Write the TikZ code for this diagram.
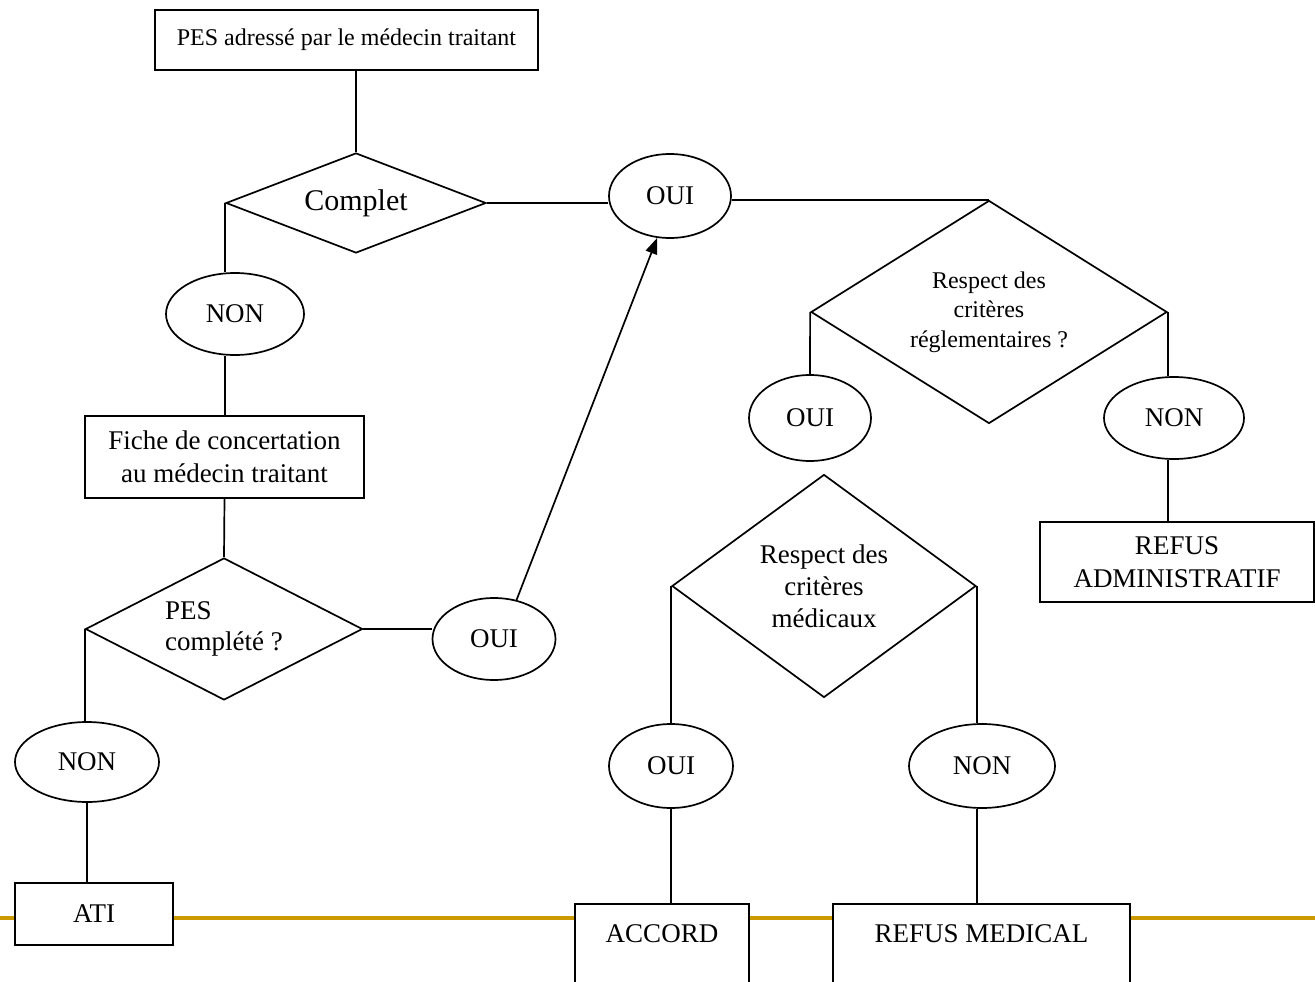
\documentclass[tikz,border=0pt]{standalone}
\usepackage{fontspec}
\setmainfont{Liberation Serif}
\usetikzlibrary{arrows.meta,shapes.geometric}

\definecolor{rulegold}{RGB}{204,153,0}

\begin{document}
\begin{tikzpicture}[x=1pt,y=-1pt,line width=1.7pt,>={Triangle[length=16pt,width=12pt]},
    box/.style={draw,fill=white,rectangle,inner sep=0pt,align=center,font=\fontsize{27}{32.5}\selectfont},
    choice/.style={draw,fill=white,diamond,inner sep=0pt,align=center},
    answer/.style={draw,fill=white,ellipse,inner sep=0pt,font=\fontsize{27}{30}\selectfont},
    cutbox/.style={box,anchor=north,text height=18pt,text depth=80pt,inner ysep=21pt}]
  \useasboundingbox (0,0) rectangle (1315,982);
  \clip (0,0) rectangle (1315,982);
  \draw[rulegold,line width=4pt] (0,918) -- (1315,918);

  \node[box,minimum width=383,minimum height=60,font=\fontsize{24}{28}\selectfont] (pes) at (346.5,40) {PES adressé par le médecin traitant};
  \node[choice,aspect=2.6,minimum width=260,minimum height=100,font=\fontsize{30}{34}\selectfont] (complet) at (356,203) {Complet};
  \node[answer,minimum width=122,minimum height=84] (oui1) at (670,196) {OUI};
  \node[answer,minimum width=138,minimum height=82] (non1) at (235,314) {NON};
  \node[box,minimum width=279,minimum height=82] (fiche) at (224.5,457) {Fiche de concertation\\au médecin traitant};
  \node[choice,aspect=1.95,minimum width=277,minimum height=142,align=left,font=\fontsize{27}{31}\selectfont] (pesc) at (224,629) {PES\\complété ?};
  \node[answer,minimum width=123,minimum height=82] (oui2) at (494,639) {OUI};
  \node[answer,minimum width=144,minimum height=80] (non2) at (87,762) {NON};
  \node[box,minimum width=158,minimum height=62] (ati) at (94,914) {ATI};

  \node[choice,aspect=1.6,minimum width=356,minimum height=223,font=\fontsize{24}{29.5}\selectfont] (regl) at (989,312) {Respect des\\critères\\réglementaires ?};
  \node[answer,minimum width=122,minimum height=86] (oui3) at (810,418) {OUI};
  \node[answer,minimum width=140,minimum height=82] (non3) at (1174,418) {NON};
  \node[box,minimum width=274,minimum height=80] (refusadm) at (1177,562) {REFUS\\ADMINISTRATIF};

  \node[choice,aspect=1.36,minimum width=304,minimum height=223,font=\fontsize{27}{32}\selectfont] (med) at (824,586) {Respect des\\critères\\médicaux};
  \node[answer,minimum width=124,minimum height=84] (oui4) at (671,766) {OUI};
  \node[answer,minimum width=146,minimum height=84] (non4) at (982,766) {NON};
  \node[cutbox,minimum width=174] (accord) at (662,903) {ACCORD};
  \node[cutbox,minimum width=297] (refusmed) at (981.5,903) {REFUS MEDICAL};

  \path (complet.north |- pes.south) edge (complet.north)
        (complet.east) edge (complet.east -| oui1.west)
        (oui1.east |- regl.north) edge (regl.north)
        (complet.west) edge (complet.west |- non1.north)
        (complet.west |- non1.south) edge (complet.west |- fiche.north)
        (fiche.south) edge (pesc.north)
        (pesc.east) edge (pesc.east -| oui2.west)
        (oui2.60) edge [->] (oui1.253)
        (pesc.west) edge (pesc.west |- non2.north)
        (non2.south) edge (non2.south |- ati.north)
        (regl.west) edge (oui3.north)
        (regl.east) edge (regl.east |- non3.north)
        (regl.east |- non3.south) edge (regl.east |- refusadm.north)
        (med.west) edge (med.west |- oui4.north)
        (oui4.south) edge (oui4.south |- accord.north)
        (med.east) edge (med.east |- non4.north)
        (med.east |- non4.south) edge (med.east |- refusmed.north);
\end{tikzpicture}
\end{document}
